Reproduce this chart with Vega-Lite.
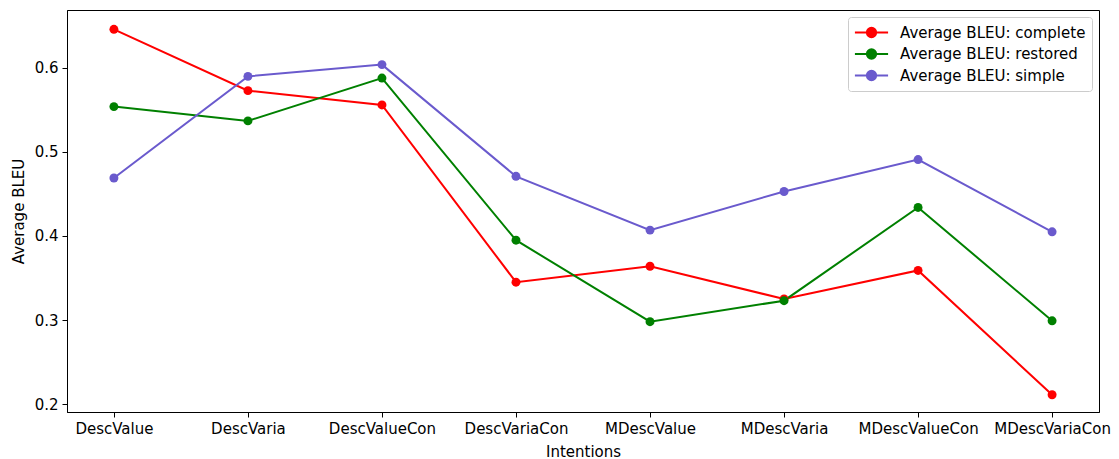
{
  "$schema": "https://vega.github.io/schema/vega-lite/v6.json",
  "width": 1032,
  "height": 402,
  "autosize": {"type": "none"},
  "padding": {"left": 67, "top": 10, "right": 20, "bottom": 47},
  "background": "white",
  "config": {
    "font": "DejaVu Sans",
    "view": {"stroke": "black", "strokeWidth": 1},
    "axis": {
      "domainColor": "black",
      "tickColor": "black",
      "labelColor": "black",
      "titleColor": "black",
      "labelFont": "DejaVu Sans",
      "titleFont": "DejaVu Sans",
      "labelFontSize": 15,
      "titleFontSize": 15,
      "titleFontWeight": "normal",
      "tickSize": 5,
      "grid": false
    }
  },
  "data": {
    "values": [
      {"intention": "DescValue", "series": "Average BLEU: complete", "bleu": 0.646},
      {"intention": "DescVaria", "series": "Average BLEU: complete", "bleu": 0.573},
      {"intention": "DescValueCon", "series": "Average BLEU: complete", "bleu": 0.556},
      {"intention": "DescVariaCon", "series": "Average BLEU: complete", "bleu": 0.345},
      {"intention": "MDescValue", "series": "Average BLEU: complete", "bleu": 0.364},
      {"intention": "MDescVaria", "series": "Average BLEU: complete", "bleu": 0.325},
      {"intention": "MDescValueCon", "series": "Average BLEU: complete", "bleu": 0.359},
      {"intention": "MDescVariaCon", "series": "Average BLEU: complete", "bleu": 0.211},
      {"intention": "DescValue", "series": "Average BLEU: restored", "bleu": 0.554},
      {"intention": "DescVaria", "series": "Average BLEU: restored", "bleu": 0.537},
      {"intention": "DescValueCon", "series": "Average BLEU: restored", "bleu": 0.588},
      {"intention": "DescVariaCon", "series": "Average BLEU: restored", "bleu": 0.395},
      {"intention": "MDescValue", "series": "Average BLEU: restored", "bleu": 0.298},
      {"intention": "MDescVaria", "series": "Average BLEU: restored", "bleu": 0.323},
      {"intention": "MDescValueCon", "series": "Average BLEU: restored", "bleu": 0.434},
      {"intention": "MDescVariaCon", "series": "Average BLEU: restored", "bleu": 0.299},
      {"intention": "DescValue", "series": "Average BLEU: simple", "bleu": 0.469},
      {"intention": "DescVaria", "series": "Average BLEU: simple", "bleu": 0.590},
      {"intention": "DescValueCon", "series": "Average BLEU: simple", "bleu": 0.604},
      {"intention": "DescVariaCon", "series": "Average BLEU: simple", "bleu": 0.471},
      {"intention": "MDescValue", "series": "Average BLEU: simple", "bleu": 0.407},
      {"intention": "MDescVaria", "series": "Average BLEU: simple", "bleu": 0.453},
      {"intention": "MDescValueCon", "series": "Average BLEU: simple", "bleu": 0.491},
      {"intention": "MDescVariaCon", "series": "Average BLEU: simple", "bleu": 0.405}
    ]
  },
  "encoding": {
    "x": {
      "field": "intention",
      "type": "ordinal",
      "sort": null,
      "scale": {"type": "point", "padding": 0.35},
      "axis": {"title": "Intentions", "labelAngle": 0, "labelPadding": 4, "titlePadding": 8}
    },
    "y": {
      "field": "bleu",
      "type": "quantitative",
      "scale": {"domain": [0.1905, 0.669], "nice": false, "zero": false},
      "axis": {"title": "Average BLEU", "values": [0.2, 0.3, 0.4, 0.5, 0.6], "format": ".1f", "labelPadding": 4, "titlePadding": 8}
    },
    "color": {
      "field": "series",
      "type": "nominal",
      "scale": {
        "domain": ["Average BLEU: complete", "Average BLEU: restored", "Average BLEU: simple"],
        "range": ["#ff0000", "#008000", "#6a5acd"]
      },
      "legend": {
        "title": null,
        "orient": "top-right",
        "offset": 7,
        "labelFontSize": 15,
        "labelFont": "DejaVu Sans",
        "labelColor": "black",
        "labelLimit": 0,
        "symbolType": "M-2,0L2,0M-0.56,0A0.56,0.56 0 1,0 0.56,0A0.56,0.56 0 1,0 -0.56,0Z",
        "symbolSize": 275,
        "symbolStrokeWidth": 2,
        "symbolOffset": 8,
        "rowPadding": 2.5,
        "labelOffset": 19,
        "padding": 6,
        "strokeColor": "#cccccc",
        "fillColor": "white",
        "cornerRadius": 3
      }
    }
  },
  "layer": [
    {"mark": {"type": "line", "strokeWidth": 2}},
    {"mark": {"type": "circle", "size": 80, "opacity": 1}}
  ]
}
